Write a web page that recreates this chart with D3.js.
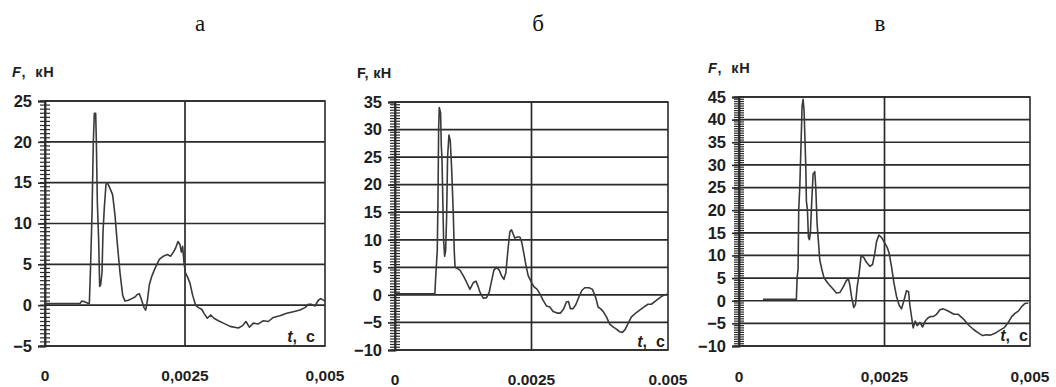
<!DOCTYPE html>
<html><head><meta charset="utf-8">
<script src="https://cdn.jsdelivr.net/npm/d3@7"></script>
<style>
html,body{margin:0;padding:0;background:#fff;}
svg{display:block;}
</style></head>
<body>
<svg id="chart" width="1056" height="387"></svg>
<script>
// ---- Data (t in seconds, F in kN) ----
const titles = ["а", "б", "в"];
const xTickValues = [0, 0.0025, 0.005];
const xTickLabelsA = ["0", "0,0025", "0,005"];
const xTickLabelsB = ["0", "0.0025", "0.005"];
const xTickLabelsC = ["0", "0,0025", "0,005"];
const yTicksA = [-5, 0, 5, 10, 15, 20, 25];
const yTicksB = [-10, -5, 0, 5, 10, 15, 20, 25, 30, 35];
const yTicksC = [-10, -5, 0, 5, 10, 15, 20, 25, 30, 35, 40, 45];

const tA = [0,0.000625,0.000655,0.000714,0.000774,0.000792,0.000815,0.000839,0.000863,0.000881,0.000905,0.000917,0.000935,0.000958,0.000976,0.000994,0.001018,0.001036,0.00106,0.001089,0.001113,0.001161,0.001208,0.00125,0.001292,0.001339,0.001387,0.001429,0.001488,0.001548,0.001607,0.001649,0.001685,0.001726,0.001768,0.001798,0.001827,0.001863,0.001905,0.001964,0.002042,0.002113,0.002185,0.002244,0.002292,0.002333,0.002375,0.002411,0.002435,0.002458,0.002482,0.002506,0.002542,0.002589,0.002637,0.00269,0.002738,0.002798,0.002839,0.002899,0.002958,0.003018,0.003095,0.003185,0.003304,0.003452,0.00353,0.003589,0.003649,0.00372,0.00381,0.003899,0.003988,0.004077,0.004196,0.004315,0.004435,0.004554,0.004643,0.004702,0.004762,0.004821,0.004881,0.004923,0.005];
const fA = [0.2,0.2,0.5,0.4,0.2,0.2,5,11,20,23.5,23.5,20,12.5,8,2.3,2.5,4,9,12,14.8,15,14.3,13.5,11,7.5,4,1.2,0.5,0.6,0.8,1.0,1.3,1.4,0.6,-0.3,-0.6,0.5,2.5,3.5,4.5,5.6,6,6.2,6,6.5,7,7.8,7.4,6.5,7.2,5.2,4,3.5,2.7,1.2,0,-0.3,-0.5,-1,-1.6,-1.2,-1.6,-1.9,-2.2,-2.6,-2.8,-2.5,-2.0,-2.7,-2.2,-2.3,-1.9,-2.0,-1.5,-1.3,-1.0,-0.8,-0.6,-0.3,0.1,0.1,-0.1,0.6,0.8,0.5];

const tB = [0,0.00073,0.000744,0.000762,0.000774,0.000787,0.000799,0.000811,0.000835,0.000848,0.00086,0.000872,0.00089,0.000909,0.000927,0.000945,0.000963,0.000988,0.001012,0.001037,0.001067,0.001085,0.0011,0.00114,0.001189,0.00125,0.001311,0.001372,0.001433,0.001482,0.001524,0.001555,0.001616,0.001677,0.001726,0.001768,0.001811,0.00186,0.001909,0.001951,0.001994,0.00203,0.002067,0.002104,0.002134,0.002165,0.002195,0.002238,0.002287,0.002323,0.00236,0.002396,0.002439,0.002488,0.002543,0.002604,0.002665,0.002713,0.002774,0.002835,0.002896,0.00297,0.003031,0.003091,0.00314,0.003177,0.003213,0.003262,0.003311,0.003372,0.003421,0.003476,0.003555,0.003616,0.003677,0.00372,0.003762,0.003811,0.003872,0.003933,0.003994,0.004055,0.004116,0.004165,0.004213,0.004268,0.00433,0.004421,0.004543,0.004634,0.004695,0.004787,0.004878,0.004939,0.004982];
const fB = [0.2,0.2,3,6,8,17,30,34,33,27,25,19,10,7,8,14,25,29,28,23,15,8,5,4.8,4.5,3.5,2.3,1,2.2,2.5,1.5,0.5,-0.6,-0.5,0.5,2.5,4.5,5,4.5,3.5,2.8,4,8,11.5,11.8,11,10.3,10.5,10.5,9.5,7.5,5.5,3.5,2.5,1.5,1.0,0,-1,-2,-2.2,-3,-3.3,-3.3,-2.5,-1.3,-1.2,-2.5,-2.5,-1.8,-0.3,0.8,1.3,1.3,1.0,-0.5,-2.2,-2.5,-3,-4,-5.3,-5.8,-6.2,-6.7,-6.8,-6.3,-5.2,-4,-3.2,-2.3,-1.7,-1.7,-1.0,-0.3,0,0.1];

const tC = [0.000413,0.000986,0.000998,0.001015,0.001026,0.001044,0.001067,0.001084,0.001101,0.001118,0.001135,0.001147,0.001158,0.001176,0.001193,0.00121,0.001227,0.00125,0.001273,0.001302,0.001319,0.001342,0.001365,0.001388,0.001422,0.001462,0.001531,0.0016,0.001674,0.001732,0.001789,0.001846,0.001881,0.001904,0.001932,0.001972,0.002001,0.00203,0.002064,0.002099,0.002145,0.00219,0.002248,0.002294,0.002334,0.002362,0.002403,0.002448,0.002494,0.002546,0.00258,0.002621,0.002661,0.002706,0.002752,0.002792,0.002833,0.002878,0.002913,0.002936,0.00297,0.002993,0.003028,0.003062,0.003108,0.003154,0.0032,0.003245,0.003291,0.003337,0.003395,0.003452,0.003509,0.003566,0.003624,0.003693,0.003767,0.003853,0.003939,0.004025,0.004111,0.004186,0.004255,0.004323,0.004398,0.004484,0.004553,0.004627,0.004685,0.004742,0.004799,0.004857,0.004914,0.004971];
const fC = [0.3,0.3,5,7,20,25,35,43,44.5,42,35,30,22,20,14,13.5,15,22,28,28.5,25,17,13,9,7,5,3.8,2.8,1.7,1.8,3,4.5,4.8,3.5,1,-1.5,-0.8,3,6,10,9.5,8.5,7.6,8,10.5,13,14.5,14,13,11.8,10.5,7.5,4,1,-1,-1.8,0,2.2,2.0,-1,-4,-6,-4.5,-5.5,-4.8,-5.8,-4.5,-3.8,-3.5,-3.5,-3,-2,-1.8,-2.1,-2.5,-3.0,-3.0,-4,-5.3,-6.3,-7.1,-7.7,-7.5,-7.6,-7.2,-6.5,-6.0,-4.8,-3.5,-2.8,-2.3,-1.3,-0.6,-0.5];

// ---- Layout ----
const panels = [
  {title: titles[0], titleX: 200, left: 45, right: 325, top: 101, bottom: 346, ticks: yTicksA, xlabels: xTickLabelsA, t: tA, f: fA, fItalic: true, flX: 12, labY: 381, tcX: 301, tcY: 342},
  {title: titles[1], titleX: 538, left: 395, right: 668, top: 102, bottom: 350, ticks: yTicksB, xlabels: xTickLabelsB, t: tB, f: fB, fItalic: false, flX: 357, labY: 385, tcX: 651, tcY: 347},
  {title: titles[2], titleX: 880, left: 739, right: 1030, top: 97, bottom: 346, ticks: yTicksC, xlabels: xTickLabelsC, t: tC, f: fC, fItalic: true, flX: 708, labY: 382, tcX: 1014, tcY: 341}
];

const svg = d3.select("#chart");
const ink = "#1e1e1e";
const gridColor = "#2a2a2a";

panels.forEach(p => {
  const g = svg.append("g");
  const x = d3.scaleLinear().domain([0, 0.005]).range([p.left, p.right]);
  const y = d3.scaleLinear().domain([p.ticks[0], p.ticks[p.ticks.length - 1]]).range([p.bottom, p.top]);

  // title
  g.append("text").attr("x", p.titleX).attr("y", 31).attr("text-anchor", "middle")
    .attr("font-family", "Liberation Serif, serif").attr("font-size", 23).attr("fill", "#111").text(p.title);

  // F label
  const fl = g.append("text").attr("x", p.flX).attr("y", p.top - 24)
    .attr("font-family", "Liberation Sans, Arial, sans-serif").attr("font-weight", "bold").attr("font-size", 14.5).attr("fill", ink)
    .attr("letter-spacing", p.fItalic ? 0.6 : 0.3);
  fl.append("tspan").attr("font-style", p.fItalic ? "italic" : "normal").text("F");
  fl.append("tspan").attr("xml:space", "preserve").text(p.fItalic ? ",\u00a0\u00a0кН" : ",\u00a0кН");

  // horizontal grid
  g.selectAll(".hg").data(p.ticks).enter().append("line")
    .attr("x1", p.left).attr("x2", p.right).attr("y1", d => y(d)).attr("y2", d => y(d))
    .attr("stroke", gridColor).attr("stroke-width", 1.7);
  // vertical middle grid
  g.append("line").attr("x1", x(0.0025)).attr("x2", x(0.0025)).attr("y1", p.top).attr("y2", p.bottom)
    .attr("stroke", gridColor).attr("stroke-width", 1.7);
  // border
  g.append("rect").attr("x", p.left).attr("y", p.top).attr("width", p.right - p.left).attr("height", p.bottom - p.top)
    .attr("fill", "none").attr("stroke", gridColor).attr("stroke-width", 1.6);

  // y axis with minor ticks
  const minor = d3.range(p.ticks[0], p.ticks[p.ticks.length - 1] + 0.001, 0.5);
  g.selectAll(".mt").data(minor).enter().append("line")
    .attr("x1", p.left - 5).attr("x2", p.left + 5).attr("y1", d => y(d)).attr("y2", d => y(d))
    .attr("stroke", gridColor).attr("stroke-width", 1.2);
  const yAxis = d3.axisLeft(y).tickValues(p.ticks).tickSize(7).tickPadding(6).tickFormat(d3.format("d"));
  const ya = g.append("g").attr("transform", `translate(${p.left},0)`).call(yAxis);
  ya.select(".domain").attr("stroke", gridColor).attr("stroke-width", 1.8);
  ya.selectAll(".tick line").attr("stroke", gridColor).attr("stroke-width", 1.6);
  ya.selectAll("text").attr("font-family", "Liberation Sans, Arial, sans-serif").attr("font-weight", "bold")
    .attr("font-size", 16.5).attr("fill", ink);

  // x tick labels
  g.selectAll(".xl").data(xTickValues).enter().append("text")
    .attr("x", d => x(d)).attr("y", p.labY).attr("text-anchor", "middle")
    .attr("font-family", "Liberation Sans, Arial, sans-serif").attr("font-weight", "bold").attr("font-size", 15.5).attr("fill", ink)
    .text((d, i) => p.xlabels[i]);

  // t, c label
  const tl = g.append("text").attr("x", p.tcX).attr("y", p.tcY).attr("text-anchor", "middle")
    .attr("font-family", "Liberation Sans, Arial, sans-serif").attr("font-weight", "bold").attr("font-size", 16).attr("fill", ink);
  tl.append("tspan").attr("font-style", "italic").text("t");
  tl.append("tspan").text(",\u00a0\u00a0с");

  // curve
  const pts = p.t.map((tv, i) => [tv, p.f[i]]);
  g.append("path").datum(pts)
    .attr("d", d3.line().x(d => x(d[0])).y(d => y(d[1])))
    .attr("fill", "none").attr("stroke", "#3a3a3a").attr("stroke-width", 1.6).attr("stroke-linejoin", "round");
});
</script>
</body></html>
